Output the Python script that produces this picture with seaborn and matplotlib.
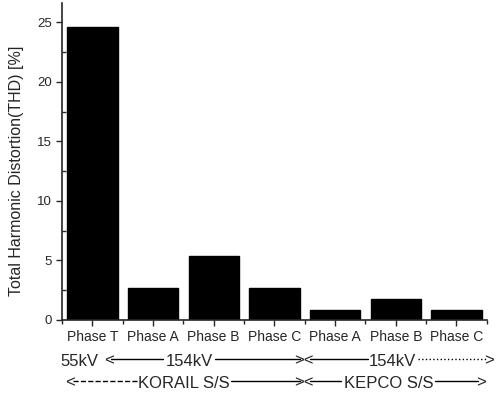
import numpy as np
import pandas as pd
import matplotlib
matplotlib.use('Agg')
import matplotlib.pyplot as plt
import seaborn as sns
from matplotlib.ticker import MultipleLocator
from matplotlib.transforms import blended_transform_factory

sns.set_style('ticks')
plt.rcParams['font.family'] = ['Liberation Sans', 'DejaVu Sans']

# Data
bus_ids = ['KORAIL T', 'KORAIL A', 'KORAIL B', 'KORAIL C', 'KEPCO A', 'KEPCO B', 'KEPCO C']
tick_labels = ['Phase T', 'Phase A', 'Phase B', 'Phase C', 'Phase A', 'Phase B', 'Phase C']
thd_values = [24.6, 2.7, 5.35, 2.7, 0.85, 1.75, 0.8]

df = pd.DataFrame({'bus': bus_ids, 'thd': thd_values})

fig = plt.figure(figsize=(4.98, 3.93), dpi=100)
ax = fig.add_axes([0.1245, 0.186, 0.853, 0.806])

sns.barplot(data=df, x='bus', y='thd', order=bus_ids, color='black',
            saturation=1, width=0.83, ax=ax)
for p in ax.patches:
    p.set_edgecolor('black')

ax.set_xlim(-0.5, 6.5)
ax.set_ylim(0, 26.6)
ax.set_xlabel('')
ax.set_ylabel('Total Harmonic Distortion(THD) [%]', fontsize=11.5)
ax.yaxis.set_label_coords(-0.09, 0.47)
ax.set_xticks(range(len(bus_ids)))
ax.set_xticklabels(tick_labels, fontsize=10)
ax.xaxis.set_minor_locator(MultipleLocator(0.5))
ax.yaxis.set_major_locator(MultipleLocator(5))
ax.yaxis.set_minor_locator(MultipleLocator(2.5))
ax.tick_params(axis='y', which='major', direction='out', length=4, width=1, labelsize=9.5)
ax.tick_params(axis='y', which='minor', direction='in', length=3, width=1)
ax.tick_params(axis='x', which='major', direction='out', length=4, width=1, pad=3)
ax.tick_params(axis='x', which='minor', direction='out', length=3, width=1)
sns.despine(ax=ax)
for s in ['left', 'bottom']:
    ax.spines[s].set_linewidth(1.2)

# Voltage / substation brackets below the tick labels
tr = blended_transform_factory(ax.transData, ax.transAxes)
row1, row2 = -0.13, -0.2
fs = 12

def seg(x0, x1, y, ls='-'):
    ax.plot([x0, x1], [y + 0.006, y + 0.006], color='black', lw=1, ls=ls,
            transform=tr, clip_on=False)

def txt(x, y, s, ha='center'):
    ax.text(x, y, s, transform=tr, ha=ha, va='center', fontsize=fs, clip_on=False)

# row 1: voltage levels
txt(-0.22, row1, '55kV')
txt(0.27, row1, '<')
seg(0.30, 1.17, row1)
txt(1.6, row1, '154kV')
seg(2.02, 3.42, row1)
txt(3.49, row1, '><')
seg(3.58, 4.55, row1)
txt(4.95, row1, '154kV')
seg(5.36, 6.5, row1, ls=':')
txt(6.53, row1, '>')

# row 2: substations
txt(-0.36, row2, '<')
seg(-0.32, 0.74, row2, ls='--')
txt(1.51, row2, 'KORAIL S/S')
seg(2.29, 3.42, row2)
txt(3.49, row2, '><')
seg(3.58, 4.1, row2)
txt(4.88, row2, 'KEPCO S/S')
seg(5.65, 6.36, row2)
txt(6.4, row2, '>')

fig.savefig('out.png', dpi=100)
